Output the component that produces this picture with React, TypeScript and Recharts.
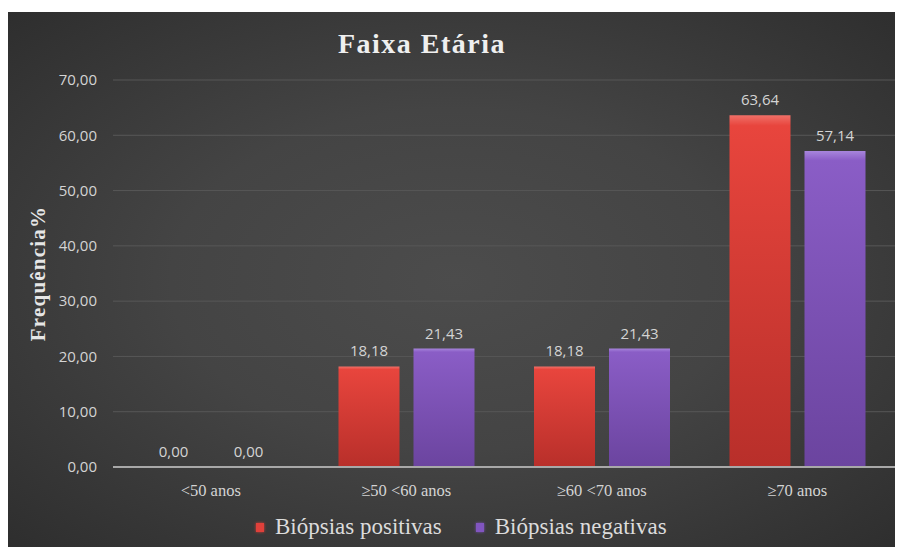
import { Bar, BarChart, CartesianGrid, LabelList, XAxis, YAxis } from "recharts";

const faixas = ["<50 anos", "≥50 <60 anos", "≥60 <70 anos", "≥70 anos"];
const positivas = [0, 18.18, 18.18, 63.64];
const negativas = [0, 21.43, 21.43, 57.14];
const yTicks = [0, 10, 20, 30, 40, 50, 60, 70];

const data = faixas.map((faixa, i) => ({
  faixa,
  positivas: positivas[i],
  negativas: negativas[i],
}));

const fmt = (v: number) => v.toFixed(2).replace(".", ",");

const serif = "'Liberation Serif', 'DejaVu Serif', serif";
const sans = "'Open Sans', 'Liberation Sans', sans-serif";

const legendItems = [
  { name: "Biópsias positivas", color: "#e0403a" },
  { name: "Biópsias negativas", color: "#8155c0" },
];

const labelStyle = { fill: "#d4d4d4", fontFamily: sans, fontSize: 15 };

export default function App() {
  return (
    <div style={{ paddingTop: 4 }}>
      <div
        style={{
          position: "relative",
          width: 895,
          height: 535,
          background: "radial-gradient(ellipse at 50% 50%, #4c4c4c 0%, #444 45%, #2e2e2e 100%)",
        }}
      >
        <BarChart
          width={895}
          height={535}
          data={data}
          margin={{ top: 68, right: 8, bottom: 50, left: 0 }}
          barGap={14}
          barCategoryGap={30}
        >
          <defs>
            <linearGradient id="gradRed" x1="0" y1="0" x2="0" y2="1">
              <stop offset="0" stopColor="#f07068" />
              <stop offset="0.03" stopColor="#e8453d" />
              <stop offset="1" stopColor="#b82f2a" />
            </linearGradient>
            <linearGradient id="gradPurple" x1="0" y1="0" x2="0" y2="1">
              <stop offset="0" stopColor="#a785dc" />
              <stop offset="0.03" stopColor="#8a5dc6" />
              <stop offset="1" stopColor="#6b449f" />
            </linearGradient>
          </defs>
          <text
            x={414}
            y={41}
            textAnchor="middle"
            fill="#efefef"
            fontFamily={serif}
            fontWeight="bold"
            fontSize={28}
            letterSpacing={1.5}
          >
            Faixa Etária
          </text>
          <CartesianGrid vertical={false} stroke="#575757" strokeWidth={1} />
          <XAxis
            dataKey="faixa"
            height={30}
            axisLine={{ stroke: "#a8a8a8", strokeWidth: 2 }}
            tickLine={false}
            tickSize={0}
            tickMargin={17}
            tick={{ fill: "#d4d4d4", fontFamily: serif, fontSize: 16.5 }}
          />
          <YAxis
            width={105}
            domain={[0, 70]}
            ticks={yTicks}
            tickFormatter={fmt}
            axisLine={false}
            tickLine={false}
            tickSize={0}
            tickMargin={16}
            tick={labelStyle}
            label={{
              content: ({ viewBox }: any) => {
                const cy = viewBox.y + viewBox.height / 2;
                return (
                  <text
                    x={32}
                    y={cy}
                    transform={`rotate(-90, 32, ${cy})`}
                    textAnchor="middle"
                    dominantBaseline="middle"
                    fill="#e6e6e6"
                    fontFamily={serif}
                    fontWeight="bold"
                    fontSize={21}
                    letterSpacing={1.2}
                  >
                    Frequência%
                  </text>
                );
              },
            }}
          />
          <Bar dataKey="positivas" name="Biópsias positivas" fill="url(#gradRed)" minPointSize={0.5} isAnimationActive={false}>
            <LabelList
              dataKey="positivas"
              position="top"
              offset={10}
              formatter={(v: any) => fmt(Number(v))}
              style={labelStyle}
            />
          </Bar>
          <Bar dataKey="negativas" name="Biópsias negativas" fill="url(#gradPurple)" minPointSize={0.5} isAnimationActive={false}>
            <LabelList
              dataKey="negativas"
              position="top"
              offset={10}
              formatter={(v: any) => fmt(Number(v))}
              style={labelStyle}
            />
          </Bar>
        </BarChart>
        <div
          style={{
            position: "absolute",
            left: 248,
            top: 502,
            display: "flex",
            alignItems: "center",
            gap: 34,
            fontFamily: serif,
            fontSize: 23,
            lineHeight: "26px",
            color: "#dcdcdc",
          }}
        >
          {legendItems.map((it) => (
            <div key={it.name} style={{ display: "flex", alignItems: "center", gap: 11 }}>
              <span
                style={{
                  width: 8,
                  height: 9,
                  background: it.color,
                  boxShadow: `0 0 3px ${it.color}`,
                  display: "inline-block",
                }}
              />
              <span>{it.name}</span>
            </div>
          ))}
        </div>
      </div>
    </div>
  );
}
